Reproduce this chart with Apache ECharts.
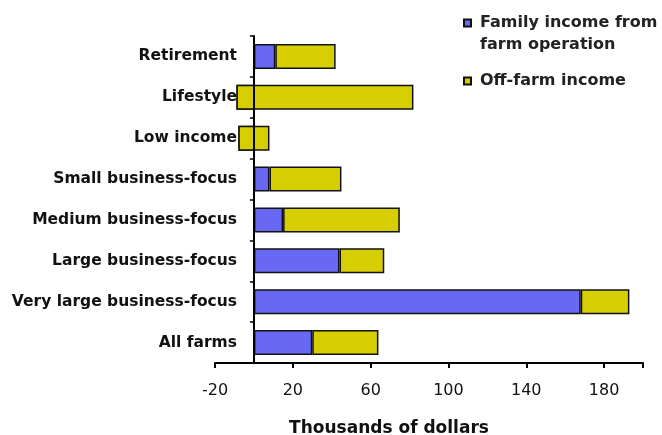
<!DOCTYPE html>
<html>
<head>
<meta charset="utf-8">
<script src="https://cdn.jsdelivr.net/npm/echarts@6/dist/echarts.min.js"></script>
<style>
  html, body { margin: 0; padding: 0; background: #fff; }
  #chart { width: 662px; height: 435px; }
</style>
</head>
<body>
<div id="chart"></div>
<script>
// Farm typology categories, bottom to top
const categories = [
  'All farms',
  'Very large business-focus',
  'Large business-focus',
  'Medium business-focus',
  'Small business-focus',
  'Low income',
  'Lifestyle',
  'Retirement'
];

// Thousands of dollars
const farmIncome = [30, 168, 44, 15, 8, -8, -9, 11];
const offFarmIncome = [34, 25, 23, 60, 37, 16, 91, 31];

const xTicks = [-20, 20, 60, 100, 140, 180];

const FARM = 'Family income from farm operation';
const OFF = 'Off-farm income';

const FONT = '"DejaVu Sans", sans-serif';
const legendText = { fontFamily: FONT, fontSize: 16, fontWeight: 'bold', color: '#222', lineHeight: 22, padding: [0, 0, 0, 4] };

const chart = echarts.init(document.getElementById('chart'));

chart.setOption({
  animation: false,
  backgroundColor: '#ffffff',
  grid: { left: 215, right: 19, top: 36, bottom: 72, containLabel: false, outerBoundsMode: 'none' },
  legend: [
    {
      // empty first line keeps the icon level with the first line of text
      orient: 'vertical',
      left: 463,
      top: -10,
      padding: 0,
      itemWidth: 7,
      itemHeight: 7,
      icon: 'rect',
      textStyle: legendText,
      formatter: () => '\nFamily income from\nfarm operation',
      data: [FARM]
    },
    {
      orient: 'vertical',
      left: 463,
      top: 70,
      padding: 0,
      itemWidth: 7,
      itemHeight: 7,
      icon: 'rect',
      textStyle: legendText,
      data: [OFF]
    }
  ],
  xAxis: {
    type: 'value',
    min: -20,
    max: 200,
    interval: 40,
    name: 'Thousands of dollars',
    nameLocation: 'middle',
    nameGap: 57,
    nameTextStyle: { fontFamily: FONT, fontSize: 17, fontWeight: 'bold', color: '#111', padding: [0, 80, 0, 0] },
    axisLine: { show: true, onZero: false, lineStyle: { color: '#000', width: 2 } },
    axisTick: { show: true, length: 5, lineStyle: { color: '#000', width: 2 } },
    splitLine: { show: false },
    axisLabel: {
      margin: 20,
      fontFamily: FONT,
      fontSize: 16,
      color: '#111',
      formatter: v => xTicks.includes(v) ? String(v) : ''
    }
  },
  yAxis: {
    type: 'category',
    data: categories,
    z: 3,
    axisLine: { show: true, onZero: true, lineStyle: { color: '#000', width: 2 } },
    axisTick: { show: true, length: 4, lineStyle: { color: '#000', width: 1.5 } },
    axisLabel: {
      margin: -22,
      fontFamily: FONT,
      fontSize: 15.5,
      fontWeight: 'bold',
      color: '#111'
    }
  },
  series: [
    {
      name: FARM,
      type: 'bar',
      stack: 'income',
      stackStrategy: 'all',
      barWidth: 25,
      data: farmIncome,
      itemStyle: { color: '#6868f4', borderColor: '#111', borderWidth: 1.5 }
    },
    {
      name: OFF,
      type: 'bar',
      stack: 'income',
      stackStrategy: 'all',
      barWidth: 25,
      data: offFarmIncome,
      itemStyle: { color: '#d6ce00', borderColor: '#111', borderWidth: 1.5 }
    }
  ]
});
</script>
</body>
</html>
